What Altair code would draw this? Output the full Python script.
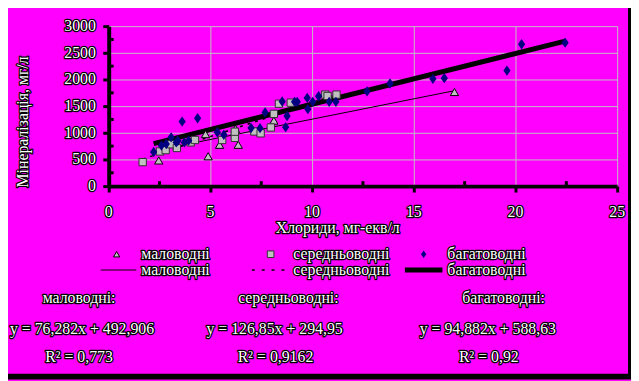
import altair as alt
import pandas as pd

# ---- data ----
malo_x = [2.46, 4.76, 4.89, 5.45, 6.23, 6.37, 8.12, 17.0]
malo_y = [481, 975, 560, 775, 1075, 775, 1228, 1765]

ser_x = [1.67, 2.52, 2.80, 3.07, 3.35, 4.03, 4.24, 5.58, 6.20, 6.20, 7.16, 7.47,
         7.97, 8.12, 8.37, 8.95, 10.65, 10.76, 11.20]
ser_y = [450, 650, 675, 785, 715, 820, 865, 865, 905, 1020, 1025, 990,
         1100, 1355, 1545, 1565, 1716, 1690, 1716]

bag_x = [2.21, 2.59, 2.83, 3.07, 3.32, 3.40, 3.61, 3.72, 3.93, 4.37, 5.34, 5.66,
         7.00, 7.44, 7.69, 8.53, 8.70, 8.77, 9.14, 9.27, 9.76, 9.79, 10.03, 10.32,
         10.84, 11.17, 12.70, 13.83, 15.94, 16.50, 19.58, 20.30, 22.44]
bag_y = [640, 760, 790, 915, 820, 850, 1210, 820, 852, 1272, 1010, 963,
         1090, 1087, 1382, 1586, 1105, 1315, 1580, 1580, 1654, 1445, 1580, 1685,
         1580, 1580, 1778, 1925, 2012, 2025, 2167, 2660, 2691]

series_names = ["маловодні", "середньоводні", "багатоводні"]
slopes = [76.282, 126.85, 94.882]
intercepts = [492.906, 294.95, 588.63]
fit_start = [2.46, 1.67, 2.21]
fit_end = [17.0, 11.2, 22.44]
eq_texts = ["y = 76,282x + 492,906", "y = 126,85x + 294,95", "y = 94,882x + 588,63"]
r2_texts = ["R² = 0,773", "R² = 0,9162", "R² = 0,92"]

x_ticks = [0, 5, 10, 15, 20, 25]
y_ticks = [0, 500, 1000, 1500, 2000, 2500, 3000]
x_minor = [2.5, 7.5, 12.5, 17.5, 22.5]
y_minor = [250, 750, 1250, 1750, 2250, 2750]

x_title = "Хлориди, мг-екв/л"
y_title = "Мінералізація, мг/л"

# ---- tables ----
malo_df = pd.DataFrame({"x": malo_x, "y": malo_y})
ser_df = pd.DataFrame({"x": ser_x, "y": ser_y})
bag_df = pd.DataFrame({"x": bag_x, "y": bag_y})

fit_rows = []
for i, name in enumerate(series_names):
    for xv in (fit_start[i], fit_end[i]):
        fit_rows.append({"s": name, "x": xv, "a": slopes[i], "b": intercepts[i]})
fit_df = pd.DataFrame(fit_rows)

one = pd.DataFrame({"k": [0]})

FONT = "Liberation Serif"
W, H = 515, 162

xs = alt.Scale(domain=[0, 25], nice=False, zero=False)
ys = alt.Scale(domain=[0, 3000], nice=False, zero=False)
ax_common = dict(labels=False, title=None, domainColor="black", domainWidth=4,
                 tickColor="black", tickWidth=3, tickSize=6,
                 grid=True, gridColor="#C0C0C0", gridWidth=1)
X = alt.X("x:Q", scale=xs, axis=alt.Axis(values=x_ticks, **ax_common))
Y = alt.Y("y:Q", scale=ys, axis=alt.Axis(values=y_ticks, **ax_common))


def label(text, x, y, align="center", angle=0, size=16):
    base = dict(font=FONT, fontSize=size, align=align, baseline="middle", text=text)
    if angle:
        base["angle"] = angle
    back = alt.Chart(one).mark_text(color="black", stroke="black", strokeWidth=2.5,
                                    strokeJoin="round", **base).encode(
        x=alt.value(x), y=alt.value(y))
    front = alt.Chart(one).mark_text(color="white", **base).encode(
        x=alt.value(x), y=alt.value(y))
    return [back, front]


layers = []

# thin black frame at the right and bottom edges of the magenta panel
layers.append(alt.Chart(one).mark_rect(fill="transparent", stroke="black", strokeWidth=6).encode(
    x=alt.value(-108), x2=alt.value(529), y=alt.value(-24), y2=alt.value(355)))

# minor ticks (inside the plot)
layers.append(alt.Chart(pd.DataFrame({"x": x_minor})).mark_rule(color="black", strokeWidth=3)
              .encode(x=X, y=alt.value(H - 5), y2=alt.value(H)))
layers.append(alt.Chart(pd.DataFrame({"y": y_minor})).mark_rule(color="black", strokeWidth=3)
              .encode(y=Y, x=alt.value(0), x2=alt.value(5)))

# trend lines
def fit_line(name, **mk):
    return alt.Chart(fit_df).transform_filter(
        alt.datum.s == name
    ).transform_calculate(
        y="datum.a * datum.x + datum.b"
    ).mark_line(color="black", **mk).encode(x=X, y=Y)

layers.append(fit_line(series_names[0], strokeWidth=1))
layers.append(fit_line(series_names[1], strokeWidth=1.5, strokeDash=[3, 5]))
layers.append(fit_line(series_names[2], strokeWidth=5))

# scatter markers
layers.append(alt.Chart(malo_df).mark_point(shape="triangle-up", filled=True, fill="#C0C0C0",
                                            stroke="black", strokeWidth=1, size=70, opacity=1)
              .encode(x=X, y=Y))
layers.append(alt.Chart(ser_df).mark_point(shape="square", filled=True, fill="#C0C0C0",
                                           stroke="#303030", strokeWidth=1, size=55, opacity=1)
              .encode(x=X, y=Y))
DIAMOND = "M0,-1L0.7,0L0,1L-0.7,0Z"
layers.append(alt.Chart(bag_df).mark_point(shape=DIAMOND, filled=True, fill="#000080",
                                           strokeWidth=0, size=110, opacity=1)
              .encode(x=X, y=Y))

# axis tick labels
xt_df = pd.DataFrame({"x": x_ticks})
yt_df = pd.DataFrame({"y": y_ticks})
for fill, extra in (("black", dict(stroke="black", strokeWidth=2.5, strokeJoin="round")),
                    ("white", {})):
    layers.append(alt.Chart(xt_df).mark_text(font=FONT, fontSize=16, baseline="middle",
                                             color=fill, **extra)
                  .encode(x=X, y=alt.value(188), text=alt.Text("x:Q")))
    layers.append(alt.Chart(yt_df).mark_text(font=FONT, fontSize=16, baseline="middle",
                                             align="right", color=fill, **extra)
                  .encode(y=Y, x=alt.value(-13), text=alt.Text("y:Q")))

# axis titles
layers += label(x_title, 232, 205)
layers += label(y_title, -87, 97, angle=270)

# legend
LY1, LY2 = 231, 247
layers.append(alt.Chart(one).mark_point(shape="triangle-up", filled=True, fill="#C0C0C0",
                                        stroke="black", strokeWidth=1, size=40, opacity=1)
              .encode(x=alt.value(8), y=alt.value(LY1)))
layers.append(alt.Chart(one).mark_point(shape="square", filled=True, fill="#C0C0C0",
                                        stroke="#303030", strokeWidth=1, size=45, opacity=1)
              .encode(x=alt.value(164), y=alt.value(LY1)))
layers.append(alt.Chart(one).mark_point(shape=DIAMOND, filled=True, fill="#000080",
                                        strokeWidth=0, size=60, opacity=1)
              .encode(x=alt.value(319), y=alt.value(LY1)))
layers.append(alt.Chart(one).mark_rule(color="black", strokeWidth=1)
              .encode(x=alt.value(-8), x2=alt.value(28), y=alt.value(LY2)))
layers.append(alt.Chart(one).mark_rule(color="black", strokeWidth=1.5, strokeDash=[3, 7])
              .encode(x=alt.value(145), x2=alt.value(180), y=alt.value(LY2)))
layers.append(alt.Chart(one).mark_rule(color="black", strokeWidth=5)
              .encode(x=alt.value(300), x2=alt.value(338), y=alt.value(LY2)))
for i, lx in enumerate((33, 187, 343)):
    layers += label(series_names[i], lx, LY1, align="left")
    layers += label(series_names[i], lx, LY2, align="left")

# equations block
for i, (hx, ex, rx) in enumerate(((-30, -27, -30), (182, 168, 169), (400, 384, 385))):
    layers += label(series_names[i] + ":", hx, 275)
    layers += label(eq_texts[i], ex, 307)
    layers += label(r2_texts[i], rx, 335)

chart = alt.layer(*layers).properties(
    width=W, height=H,
    autosize=alt.AutoSizeParams(type="none"),
    padding={"left": 102, "top": 16, "right": 14, "bottom": 195},
).configure(background="#FF00FF").configure_view(strokeWidth=0)

chart.save("out.html", embed_options={"renderer": "svg", "actions": False})
